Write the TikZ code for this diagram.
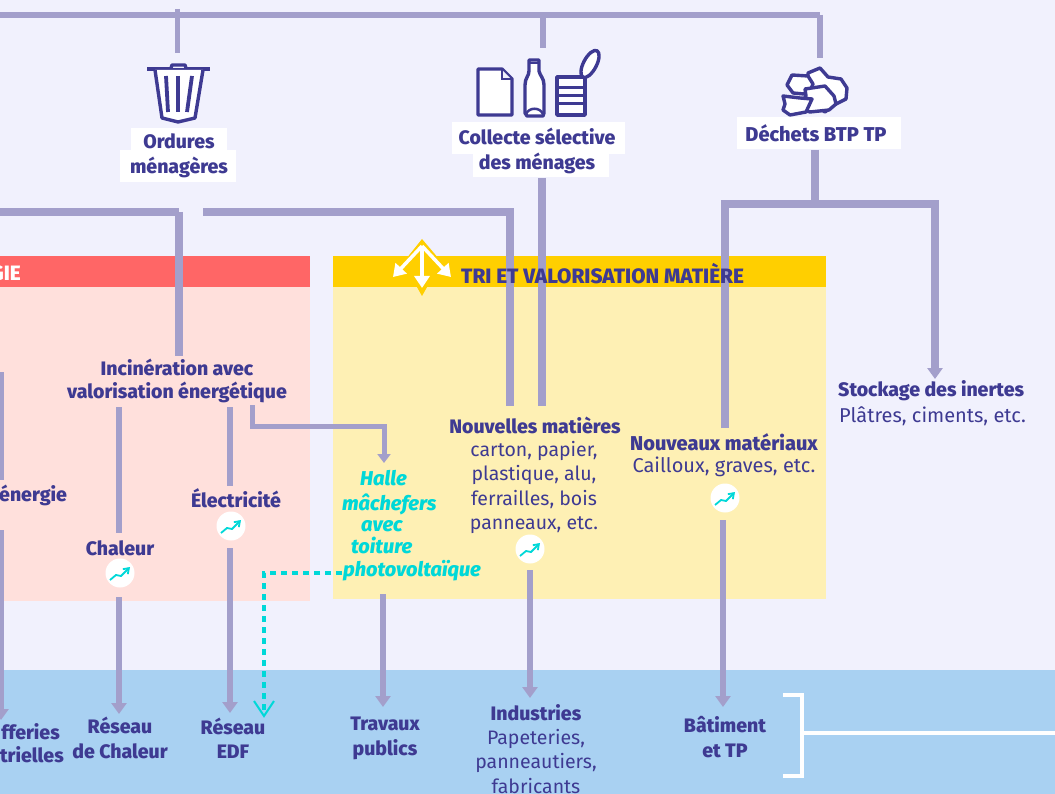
\documentclass[tikz,border=0pt]{standalone}
\usepackage{fontspec}
\setmainfont[BoldFont={Fira Sans ExtraBold},BoldItalicFont={Fira Sans ExtraBold Italic}]{Fira Sans}
\usetikzlibrary{arrows.meta,calc}
\definecolor{bgc}{HTML}{F1F1FD}
\definecolor{redh}{HTML}{FF6666}
\definecolor{redp}{HTML}{FFE0DC}
\definecolor{yelh}{HTML}{FFCF00}
\definecolor{yelp}{HTML}{FEF0B4}
\definecolor{blueb}{HTML}{A9D1F2}
\definecolor{lin}{HTML}{A39FCB}
\definecolor{ink}{HTML}{3E3A92}
\definecolor{cy}{HTML}{00D8D8}
\tikzset{
 x=1pt,y=-1pt,
 flow/.style={draw=lin,line width=7.5pt},
 thin flow/.style={draw=lin,line width=5pt},
 arr/.style={draw=lin,line width=6.5pt,-{Triangle[length=11pt,width=15pt]}},
 seg/.style={draw=lin,line width=6.5pt},
 icon/.style={draw=ink,line width=3.4pt,fill=white,line join=round},
 bt/.style={font=\fontsize{19.5}{24.5}\selectfont\bfseries,text=ink,align=center,inner sep=0pt},
 btw/.style={font=\fontsize{20}{24.5}\selectfont\bfseries,text=ink,align=center,inner sep=0pt},
 nt/.style={font=\fontsize{19.5}{24.5}\selectfont,text=ink,align=center,inner sep=0pt},
 nw/.style={font=\fontsize{20}{24.5}\selectfont,text=ink,align=center,inner sep=0pt},
 bubble/.style={circle,fill=white,minimum size=29pt,inner sep=0pt},
 trend/.style={draw=cy,line width=1.8pt,-{Straight Barb[length=5pt,width=7pt]}},
 cyt/.style={font=\fontsize{20}{22.5}\selectfont\bfseries\itshape,text=cy,inner sep=0pt,anchor=base west},
}
\newcommand{\trendicon}[1]{%
 \draw[trend] ($(#1)+(-10,7)$) -- ($(#1)+(-4,2)$) -- ($(#1)+(1,3)$) -- ($(#1)+(10,-6)$);}
\begin{document}
\begin{tikzpicture}
\useasboundingbox (0,0) rectangle (1055,794);
\fill[bgc] (0,0) rectangle (1055,794);
\fill[blueb] (0,670) rectangle (1055,794);
\fill[redp] (0,287) rectangle (310,601);
\fill[redh] (0,256) rectangle (310,287);
\fill[yelp] (333,287) rectangle (826,599);
\fill[yelh] (333,256) rectangle (826,287);

% coordinates
\coordinate (t0) at (0,15);
\coordinate (t1) at (820,15);
\coordinate (s1a) at (177,9);
\coordinate (s1b) at (177,53);
\coordinate (s2a) at (543,14);
\coordinate (s2b) at (543,48);
\coordinate (s3b) at (820,58);
\coordinate (h0) at (0,212);
\coordinate (h1) at (179,212);
\coordinate (h2) at (203,212);
\coordinate (h3) at (510,212);
\coordinate (v1) at (510,406);
\coordinate (inc) at (179,356);
\coordinate (col) at (542,178);
\coordinate (colb) at (542,406);
\coordinate (d0) at (815,150);
\coordinate (d1) at (815,204);
\coordinate (dl) at (725,204);
\coordinate (dr) at (935,204);
\coordinate (dlb) at (725,428);
\coordinate (drb) at (935,379);

\draw[draw=lin,line width=6pt] (t0) -- (t1);
\draw[thin flow] (s1a) -- (s1b);
\draw[thin flow,line width=6.5pt] (s2a) -- (s2b);
\draw[thin flow,line width=6.5pt] (t1) -- (s3b);
\draw[flow] (h1) -- (inc);
\draw[flow] (h0) -- (h1);
\draw[flow,line join=miter] (h2) -- (h3) -- (v1);
\draw[flow] (col) -- (colb);
\draw[flow] (d0) -- (d1);
\draw[flow,line join=miter] (dlb) -- (dl) -- (dr) -- ($(drb)+(0,-5)$);
\draw[arr] ($(drb)+(0,-12)$) -- (drb);

% icons: bin
\draw[icon] (147,69) -- (210,69);
\draw[icon,fill=bgc] (171,68) -- (172,65) -- (185,65) -- (186,68);
\draw[icon] (155,70) -- (162,118) -- (178,122) -- (195,118) -- (203,70);
\foreach \a/\b in {166/168,178/178,192/187}
  \draw[ink,line width=3.8pt] (\a,76) -- (\b,112);

% paper, bottle, can
\draw[icon] (478,69) -- (502,69) -- (512,79) -- (512,115) -- (478,115) -- cycle;
\draw[draw=ink,line width=2.5pt,fill=bgc] (502,70) -- (502,79) -- (511,79);
\draw[icon] (529,60) -- (539,60) -- (539,71) .. controls (540,76) and (544,78) .. (544,85) -- (544,113) -- (543,116) -- (527,116) -- (525,113) -- (525,85) .. controls (525,78) and (529,76) .. (529,71) -- cycle;
\draw[draw=ink,line width=2.5pt] (526,114) .. controls (529,107) and (540,107) .. (543,114);
\draw[draw=ink,line width=2pt] (530,63) -- (538,63);
\draw[icon,line join=round] (557,77) -- (585,77) -- (585,115) -- (557,115) -- cycle;
\draw[ink,line width=3pt] (557,88) -- (585,88) (557,96) -- (585,96) (557,104) -- (585,104);
\draw[icon,rotate around={-28:(590,64)}] (590,64) ellipse[x radius=6.5,y radius=15];

% rubble
\draw[icon] (808,73) -- (820,68) -- (828,77) -- (841,79) -- (847,88) -- (846,99) -- (834,105) -- (825,112) -- (808,100) -- cycle;
\draw[icon] (792,75) -- (808,76) -- (813,84) -- (810,91) -- (804,94) -- (793,93) -- (787,85) -- cycle;
\draw[icon] (805,89) -- (825,86) -- (834,96) -- (836,104) -- (829,110) -- (810,112) -- (797,108) -- (806,96) -- cycle;
\draw[icon] (783,96) -- (800,98) -- (812,99) -- (806,112) -- (790,115) -- (783,110) -- (785,104) -- cycle;

% source labels
\fill[white] (131,128) rectangle (227,150);
\fill[white] (120,150) rectangle (236,182);
\node[bt,font=\fontsize{19.5}{25}\selectfont\bfseries] (om) at (179,155.5) {Ordures\\ménagères};
\fill[white] (452,122) rectangle (625,154);
\fill[white] (473,154) rectangle (609,177);
\node[bt] (cs) at (537,151) {Collecte sélective\\des ménages};
\fill[white] (737,117) rectangle (901,149);
\node[btw] (dbt) at (816,133) {Déchets BTP TP};

% header text
\node[font=\fontsize{20.8}{22}\selectfont\bfseries,text=white,inner sep=0pt,anchor=east] (gie) at (21,273.5) {GIE};
\node[font=\fontsize{20.8}{22}\selectfont\bfseries,text=ink,inner sep=0pt,anchor=west] (tri) at (461,273.5) {TRI ET VALORISATION MATIÈRE};

% split icon
\fill[yelh] (422,239) -- (456,279) -- (431,280) -- (422,296) -- (413,280) -- (390,279) -- cycle;
\coordinate (sp) at (422,246);
\coordinate (sl) at (393,277);
\coordinate (sd) at (422,288);
\coordinate (sr) at (451,277);
\foreach \e in {sl,sd,sr}
 \draw[white,line width=3.5pt,-{Triangle[length=12pt,width=15pt]}] (sp) -- (\e);

% process nodes
\node[bt,font=\fontsize{19.5}{22.5}\selectfont\bfseries] (incin) at (177,381) {Incinération avec\\valorisation énergétique};
\node[bt,anchor=west] (ener) at (-1,495) {énergie};
\node[bt] (chal) at (120,548) {Chaleur};
\node[bt] (elec) at (236,498.5) {Électricité};
\node[bubble] (b1) at (120,573) {};
\node[bubble] (b2) at (231,526) {};
\node[bubble] (b3) at (530,549) {};
\node[bubble] (b4) at (725,498) {};
\trendicon{b1}\trendicon{b2}\trendicon{b3}\trendicon{b4}

\node[cyt] (h1t) at (360,485) {Halle};
\node[cyt] (h2t) at (342,510) {mâchefers};
\node[cyt] (h3t) at (361,531) {avec};
\node[cyt] (h4t) at (351,553) {toiture};
\node[cyt] (h5t) at (343,576) {photovoltaïque};

\node[bt] (nm) at (535,425) {Nouvelles matières};
\node[nt,anchor=north] (nmt) at (534,441) {carton, papier,\\plastique, alu,\\ferrailles, bois\\panneaux, etc.};
\node[btw] (nv) at (724,442) {Nouveaux matériaux};
\node[nw] (nvt) at (724,467) {Cailloux, graves, etc.};
\node[bt,anchor=west] (st) at (838,391) {Stockage des inertes};
\node[nw,anchor=west] (stt) at (839,416) {Plâtres, ciments, etc.};

% outcomes
\node[bt,anchor=east] (aff) at (60,732) {fferies};
\node[bt,anchor=east] (tri2) at (64,755) {trielles};
\node[bt] (rc) at (120,738) {Réseau\\de Chaleur};
\node[bt] (edf) at (233,738) {Réseau\\EDF};
\node[bt] (tp) at (385,738.5) {Travaux\\publics};
\node[bt] (ind) at (536,713) {Industries};
\node[nt,anchor=north] (indt) at (536,729) {Papeteries,\\panneautiers,\\fabricants};
\node[bt] (bat) at (725,737) {Bâtiment\\et TP};

% process connectors
\draw[seg] (1,372) -- (1,480);
\draw[arr] (1,530) -- (1,720);
\draw[seg] (119,407) -- (119,533);
\draw[arr] (119,597) -- (119,714);
\draw[seg] (230,407) -- (230,486);
\draw[arr] (230,548) -- (230,713);
\coordinate (k0) at (252,405);
\coordinate (k1) at (252,426);
\coordinate (k2) at (384,426);
\coordinate (k3) at (384,463);
\draw[draw=lin,line width=5pt,line join=miter,-{Triangle[length=9pt,width=13pt]}] (k0) -- (k1) -- (k2) -- (k3);
\draw[arr] (383,594) -- (383,707);
\draw[arr] (530,570) -- (530,698);
\draw[arr] (723,520) -- (723,707);

% dashed
\coordinate (da) at (342,573);
\coordinate (db) at (264,573);
\coordinate (dc) at (264,716);
\draw[draw=cy,line width=3.5pt,dash pattern=on 6pt off 5pt] (da) -- (db) -- ($(dc)+(0,-2)$);
\draw[draw=cy,line width=2pt] ($(dc)+(-10,-15)$) -- (dc) -- ($(dc)+(10,-15)$);

% bracket
\coordinate (br0) at (783,695);
\coordinate (br1) at (802,695);
\coordinate (br2) at (802,776);
\coordinate (br3) at (783,776);
\coordinate (brm) at (802,733);
\coordinate (bre) at (1055,733);
\draw[white,line width=4pt,line join=miter] (br0) -- (br1) -- (br2) -- (br3);
\draw[white,line width=4pt] (brm) -- (bre);
\end{tikzpicture}
\end{document}
